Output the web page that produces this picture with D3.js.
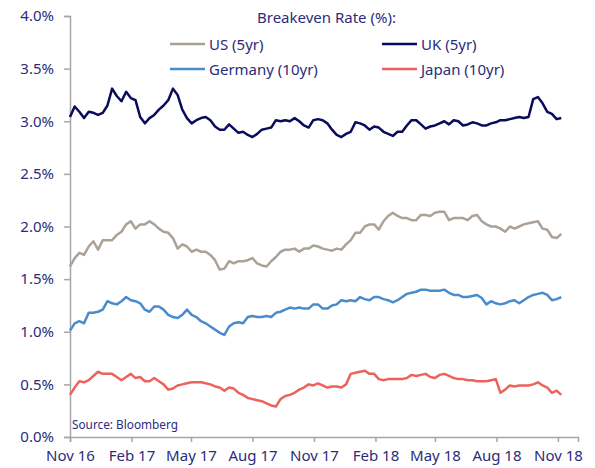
<!DOCTYPE html>
<html>
<head>
<meta charset="utf-8">
<script src="https://cdn.jsdelivr.net/npm/d3@7"></script>
<style>
  body { margin: 0; background: #fff; }
  text { font-family: "Noto Sans", sans-serif; fill: #2a2d7c; }
</style>
</head>
<body>
<div id="chart"></div>
<script>
// weekly observations, first one on 1 Nov 2016
const firstDate = "2016-11-01";

const ukValues = [3.04,3.14,3.09,3.03,3.09,3.08,3.06,3.08,3.15,3.31,3.24,3.19,3.28,3.22,3.20,3.04,2.98,3.03,3.06,3.11,
  3.15,3.20,3.31,3.25,3.11,3.03,2.98,3.01,3.03,3.04,3.01,2.95,2.92,2.92,2.97,2.93,2.89,2.90,2.87,2.85,
  2.88,2.92,2.93,2.94,3.01,3.00,3.01,3.00,3.03,3.00,2.96,2.94,3.01,3.02,3.01,2.98,2.92,2.87,2.85,2.88,
  2.90,2.99,2.98,2.96,2.92,2.95,2.94,2.90,2.88,2.86,2.90,2.90,2.96,3.01,3.01,2.97,2.93,2.95,2.96,2.98,
  3.00,2.97,3.01,3.00,2.96,2.97,2.99,2.98,2.96,2.96,2.98,2.99,3.01,3.01,3.02,3.03,3.04,3.03,3.04,3.21,
  3.23,3.17,3.09,3.07,3.02,3.03];

const usValues = [1.62,1.70,1.75,1.73,1.81,1.86,1.78,1.87,1.87,1.87,1.92,1.95,2.02,2.05,1.98,2.02,2.02,2.05,2.02,1.98,
  1.95,1.94,1.89,1.79,1.83,1.81,1.76,1.78,1.76,1.76,1.73,1.68,1.59,1.60,1.67,1.65,1.67,1.67,1.68,1.70,
  1.65,1.63,1.62,1.67,1.71,1.76,1.78,1.78,1.79,1.76,1.79,1.79,1.82,1.81,1.79,1.78,1.77,1.79,1.78,1.83,
  1.87,1.94,1.94,2.00,2.02,2.02,1.97,2.05,2.10,2.13,2.10,2.08,2.08,2.06,2.06,2.11,2.11,2.10,2.13,2.14,
  2.14,2.06,2.08,2.08,2.08,2.06,2.10,2.11,2.05,2.02,2.00,2.00,1.98,1.95,2.00,1.98,2.00,2.02,2.03,2.04,
  2.05,1.98,1.97,1.90,1.89,1.93];

const germanyValues = [1.01,1.08,1.10,1.08,1.18,1.18,1.19,1.21,1.29,1.27,1.26,1.29,1.33,1.30,1.29,1.27,1.21,1.19,1.24,1.24,
  1.21,1.16,1.14,1.13,1.16,1.21,1.16,1.14,1.10,1.08,1.05,1.02,0.99,0.97,1.05,1.08,1.09,1.08,1.14,1.15,
  1.14,1.14,1.15,1.14,1.18,1.19,1.21,1.23,1.22,1.23,1.22,1.22,1.26,1.26,1.22,1.22,1.25,1.26,1.30,1.29,
  1.30,1.29,1.33,1.31,1.30,1.33,1.33,1.31,1.30,1.28,1.30,1.33,1.36,1.37,1.38,1.40,1.40,1.39,1.39,1.39,
  1.40,1.37,1.35,1.35,1.33,1.33,1.34,1.35,1.32,1.26,1.29,1.27,1.26,1.27,1.29,1.30,1.27,1.30,1.33,1.35,
  1.36,1.37,1.35,1.30,1.31,1.33];

const japanValues = [0.40,0.47,0.53,0.52,0.54,0.58,0.62,0.60,0.60,0.60,0.57,0.54,0.57,0.60,0.56,0.57,0.53,0.53,0.56,0.53,
  0.50,0.45,0.46,0.49,0.50,0.51,0.52,0.52,0.52,0.51,0.50,0.48,0.47,0.44,0.47,0.46,0.42,0.40,0.37,0.36,
  0.35,0.34,0.32,0.30,0.29,0.36,0.39,0.40,0.42,0.45,0.47,0.50,0.49,0.51,0.49,0.47,0.48,0.48,0.47,0.50,
  0.60,0.61,0.62,0.63,0.60,0.60,0.55,0.54,0.55,0.55,0.55,0.55,0.56,0.59,0.58,0.59,0.60,0.57,0.56,0.59,
  0.60,0.58,0.56,0.55,0.55,0.54,0.54,0.53,0.53,0.53,0.54,0.55,0.42,0.45,0.49,0.48,0.49,0.49,0.49,0.50,
  0.52,0.49,0.47,0.42,0.44,0.40];

const seriesNames = ["US (5yr)", "UK (5yr)", "Germany (10yr)", "Japan (10yr)"];
const seriesColors = ["#aaa298", "#0b0b5c", "#4a8ccb", "#ec625d"];

const xTickDates = ["2016-11-01","2017-02-01","2017-05-01","2017-08-01","2017-11-01",
  "2018-02-01","2018-05-01","2018-08-01","2018-11-01"];
const yTicks = [0, 0.5, 1.0, 1.5, 2.0, 2.5, 3.0, 3.5, 4.0];

const W = 595, H = 468;
const margin = {top: 16, right: 17, bottom: 31, left: 70};
const width = W - margin.left - margin.right;
const height = H - margin.top - margin.bottom;

const parse = d3.timeParse("%Y-%m-%d");
const start = parse(firstDate);
const dates = ukValues.map((v, i) => d3.timeDay.offset(start, 7 * i));

const allSeries = [usValues, ukValues, germanyValues, japanValues].map((vals, k) => ({
  name: seriesNames[k],
  color: seriesColors[k],
  points: vals.map((v, i) => ({date: dates[i], value: v}))
}));

const svg = d3.select("#chart").append("svg")
  .attr("width", W)
  .attr("height", H);

const g = svg.append("g")
  .attr("transform", "translate(" + margin.left + "," + margin.top + ")");

const x = d3.scaleTime()
  .domain([parse("2016-11-01"), parse("2018-12-01")])
  .range([0, width]);

const y = d3.scaleLinear()
  .domain([0, 4])
  .range([height, 0]);

// y axis
const yAxis = g.append("g")
  .call(d3.axisLeft(y).tickValues(yTicks).tickSizeOuter(0).tickSize(6).tickPadding(10)
    .tickFormat(d => d.toFixed(1) + "%"));
yAxis.select(".domain").attr("stroke", "#a6a6a6").attr("stroke-width", 1.5);
yAxis.selectAll(".tick line").attr("stroke", "#a6a6a6").attr("stroke-width", 1.5);
yAxis.selectAll(".tick text").style("font-size", "15px").attr("fill", "#2a2d7c");

// x axis
const xAxis = g.append("g")
  .attr("transform", "translate(0," + height + ")")
  .call(d3.axisBottom(x).tickValues(xTickDates.map(parse)).tickFormat(d3.timeFormat("%b %y"))
    .tickSizeOuter(0).tickSize(5).tickPadding(8));
xAxis.select(".domain").attr("stroke", "#a6a6a6").attr("stroke-width", 1.5);
xAxis.selectAll(".tick line").attr("stroke", "#a6a6a6").attr("stroke-width", 1.5);
xAxis.selectAll(".tick text").style("font-size", "15px").attr("fill", "#2a2d7c");

// lines
const line = d3.line()
  .x(d => x(d.date))
  .y(d => y(d.value));

g.selectAll(".series")
  .data(allSeries)
  .enter()
  .append("path")
  .attr("class", "series")
  .attr("fill", "none")
  .attr("stroke", d => d.color)
  .attr("stroke-width", 2.5)
  .attr("stroke-linejoin", "round")
  .attr("d", d => line(d.points));

// legend
svg.append("text")
  .attr("x", 257)
  .attr("y", 23)
  .style("font-size", "15px")
  .text("Breakeven Rate (%):");

const legendPos = [[170, 44], [382, 44], [170, 69], [382, 69]];
const legend = svg.selectAll(".legend")
  .data(allSeries)
  .enter()
  .append("g")
  .attr("class", "legend")
  .attr("transform", (d, i) => "translate(" + legendPos[i][0] + "," + legendPos[i][1] + ")");

legend.append("line")
  .attr("x1", 0).attr("x2", 35)
  .attr("y1", 0).attr("y2", 0)
  .attr("stroke", d => d.color)
  .attr("stroke-width", 2.5);

legend.append("text")
  .attr("x", 39)
  .attr("y", 6)
  .style("font-size", "15px")
  .text(d => d.name);

svg.append("text")
  .attr("x", 72)
  .attr("y", 429)
  .style("font-size", "11.8px")
  .text("Source: Bloomberg");
</script>
</body>
</html>
